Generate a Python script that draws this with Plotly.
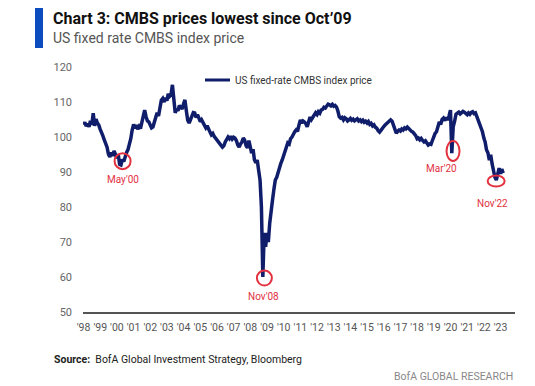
import pandas as pd
import plotly.graph_objects as go

# ---------------- data ----------------
start_month = "1998-02-01"
v1998 = [103.5, 104.2, 103.1, 103.8, 102.9, 104.6, 103.5, 106.8, 103.2, 105.1, 104.0]
v1999 = [103.4, 102.2, 101.5, 100.3, 99.2, 98.0, 97.1, 95.0, 94.3, 95.6, 94.6, 96.0]
v2000 = [95.2, 94.0, 95.1, 92.2, 92.0, 93.6, 93.0, 94.8, 95.6, 96.4, 97.8, 99.5]
v2001 = [102.0, 103.6, 102.5, 103.4, 102.2, 103.0, 102.4, 104.0, 105.2, 107.7, 105.8, 104.6]
v2002 = [104.3, 103.5, 102.6, 102.9, 104.2, 104.8, 106.9, 106.0, 108.5, 110.5, 111.0, 110.0]
v2003 = [111.2, 110.4, 112.3, 111.6, 112.0, 114.9, 111.0, 106.9, 108.0, 107.5, 109.0, 108.3]
v2004 = [108.0, 109.5, 110.6, 107.5, 104.8, 104.0, 105.2, 106.0, 107.0, 106.9, 105.6, 106.4]
v2005 = [105.0, 104.4, 104.9, 104.2, 103.3, 102.6, 103.2, 102.0, 101.4, 100.6, 101.0, 100.2]
v2006 = [99.6, 98.9, 98.6, 98.0, 97.6, 97.1, 97.5, 98.6, 99.2, 100.0, 99.5, 100.2]
v2007 = [99.4, 99.9, 99.7, 99.0, 97.8, 97.1, 98.0, 98.6, 99.7, 99.1, 97.5, 96.9]
v2008 = [99.0, 97.5, 95.4, 96.5, 93.5, 92.6, 93.4, 90.5, 87.7, 80.0, 60.0, 72.6]
v2009 = [68.6, 72.6, 70.0, 75.4, 78.0, 82.0, 85.0, 87.7, 88.5, 90.0, 91.4, 92.5]
v2010 = [93.5, 94.9, 95.5, 97.0, 98.3, 98.0, 99.5, 100.0, 101.0, 101.5, 102.0, 101.6]
v2011 = [103.4, 104.9, 104.0, 104.6, 104.3, 103.8, 102.9, 104.5, 105.7, 105.0, 105.8, 106.2]
v2012 = [106.9, 106.4, 107.2, 106.8, 107.7, 107.9, 108.5, 108.3, 109.0, 109.4, 109.2, 108.9]
v2013 = [109.3, 108.8, 109.0, 108.6, 107.5, 105.8, 105.4, 105.6, 104.9, 105.5, 105.2, 104.6]
v2014 = [104.9, 105.3, 104.8, 105.1, 104.6, 104.9, 105.2, 104.6, 104.9, 104.4, 104.8, 104.2]
v2015 = [104.5, 104.0, 104.4, 103.6, 103.9, 103.2, 103.5, 102.8, 102.5, 101.8, 101.4, 101.9]
v2016 = [102.6, 103.0, 103.4, 103.8, 104.2, 104.6, 104.9, 104.5, 103.4, 102.2, 101.1, 101.6]
v2017 = [102.0, 101.7, 102.3, 102.0, 102.6, 102.3, 102.8, 102.4, 101.9, 101.6, 101.4, 101.0]
v2018 = [100.4, 99.5, 99.7, 99.2, 99.6, 99.0, 98.6, 98.9, 98.2, 97.7, 98.0, 97.9]
v2019 = [99.0, 100.2, 101.0, 101.5, 102.8, 104.3, 103.6, 105.0, 105.4, 104.7, 105.6, 104.9]
v2020 = [106.0, 107.7, 95.4, 102.9, 104.5, 106.5, 106.8, 107.1, 106.6, 107.0, 107.3, 107.1]
v2021 = [106.8, 106.4, 106.9, 106.5, 107.0, 107.2, 106.7, 106.9, 105.8, 104.8, 104.0, 103.2]
v2022 = [101.5, 99.7, 98.6, 96.3, 95.5, 93.4, 94.9, 92.3, 89.5, 88.5, 87.7, 89.7]
v2023 = [91.1, 89.5, 90.8, 89.7]

values = (v1998 + v1999 + v2000 + v2001 + v2002 + v2003 + v2004 + v2005 + v2006
          + v2007 + v2008 + v2009 + v2010 + v2011 + v2012 + v2013 + v2014 + v2015
          + v2016 + v2017 + v2018 + v2019 + v2020 + v2021 + v2022 + v2023)
dates = pd.date_range(start_month, periods=len(values), freq="MS")

series_name = "US fixed-rate CMBS index price"
tick_years = list(range(1998, 2024))
tick_labels = ["'" + str(y)[2:] for y in tick_years]
y_ticks = [50, 60, 70, 80, 90, 100, 110, 120]

# annotated lows: label, date, value at circle, label position
ann_labels = ["May'00", "Nov'08", "Mar'20", "Nov'22"]
ann_dates = ["2000-06-05", "2008-12-05", "2020-03-28", "2022-10-28"]
ann_values = [93.1, 59.7, 96.0, 87.4]
lab_dates = ["2000-06-05", "2008-11-20", "2019-07-10", "2022-07-30"]
lab_values = [88.0, 54.3, 90.9, 80.9]

# ---------------- figure ----------------
OFF = 8                       # page offset of the plot div (body margin)
W, H = 535 - OFF, 386 - OFF
PL, PR, PT, PB = 83, 515, 67, 312   # plot area in page pixels
L, R, T, B = PL - OFF, W - (PR - OFF), PT - OFF, H - (PB - OFF)
pw, ph = PR - PL, PB - PT


def px_x(p):
    return (p - PL) / pw


def px_y(p):
    return (PB - p) / ph


navy = "#0f1d6b"
red = "#e2313f"

fig = go.Figure()
fig.add_trace(go.Scatter(x=dates, y=values, mode="lines", name=series_name,
                         line=dict(color=navy, width=3.5), showlegend=False))

shapes = []
# blue title bar
shapes.append(dict(type="rect", xref="paper", yref="paper",
                   x0=px_x(35), x1=px_x(43), y0=px_y(48), y1=px_y(5),
                   fillcolor="#0b4dbf", line=dict(width=0)))
# legend line
shapes.append(dict(type="line", xref="paper", yref="paper",
                   x0=px_x(205), x1=px_x(230), y0=px_y(80), y1=px_y(80),
                   line=dict(color=navy, width=3)))

circle_sizes = [(16, 16), (15, 15), (13, 20), (17, 11)]
for d, v, (w, h) in zip(ann_dates, ann_values, circle_sizes):
    shapes.append(dict(type="circle", xref="x", yref="y",
                       xsizemode="pixel", ysizemode="pixel",
                       xanchor=d, yanchor=v,
                       x0=-w / 2, x1=w / 2, y0=-h / 2, y1=h / 2,
                       line=dict(color=red, width=2)))

annotations = []
for t, d, v in zip(ann_labels, lab_dates, lab_values):
    annotations.append(dict(x=d, y=v, xref="x", yref="y", text=t, showarrow=False,
                            font=dict(family="Roboto", size=10, color=red),
                            xanchor="center", yanchor="middle"))

annotations += [
    dict(x=px_x(51), y=px_y(18), xref="paper", yref="paper", showarrow=False,
         text="<b>Chart 3: CMBS prices lowest since Oct’09</b>",
         font=dict(family="Roboto", size=16, color="#111"),
         xanchor="left", yanchor="middle"),
    dict(x=px_x(51), y=px_y(38), xref="paper", yref="paper", showarrow=False,
         text="US fixed rate CMBS index price",
         font=dict(family="Roboto", size=14, color="#555"),
         xanchor="left", yanchor="middle"),
    dict(x=px_x(233), y=px_y(80), xref="paper", yref="paper", showarrow=False,
         text=series_name,
         font=dict(family="Roboto", size=10, color="#333"),
         xanchor="left", yanchor="middle"),
    dict(x=px_x(52), y=px_y(359), xref="paper", yref="paper", showarrow=False,
         text="<b>Source:</b>  BofA Global Investment Strategy, Bloomberg",
         font=dict(family="Roboto", size=10.5, color="#222"),
         xanchor="left", yanchor="middle"),
    dict(x=px_x(515), y=px_y(376), xref="paper", yref="paper", showarrow=False,
         text="BofA GLOBAL RESEARCH",
         font=dict(family="Roboto", size=10.5, color="#888"),
         xanchor="right", yanchor="middle"),
]

fig.update_layout(
    width=W, height=H,
    margin=dict(l=L, r=R, t=T, b=B, pad=0),
    paper_bgcolor="white", plot_bgcolor="white",
    shapes=shapes, annotations=annotations,
    showlegend=False,
    font=dict(family="Roboto"),
)
fig.update_xaxes(
    type="date", range=["1998-01-20", "2023-12-15"],
    tickmode="array",
    tickvals=[f"{y}-02-01" for y in tick_years], ticktext=tick_labels,
    tickangle=0, ticks="", showgrid=False, zeroline=False,
    showline=True, linecolor="#555", linewidth=1.5,
    tickfont=dict(family="Roboto", size=10.5, color="#555"),
    ticklabelstandoff=5,
)
fig.update_yaxes(
    range=[50, 120], tickmode="array", tickvals=y_ticks,
    ticks="", showgrid=False, zeroline=False, showline=False,
    tickfont=dict(family="Roboto", size=11, color="#666"),
    ticklabelstandoff=10,
)

fig.write_html("out.html", config={"displayModeBar": False})
